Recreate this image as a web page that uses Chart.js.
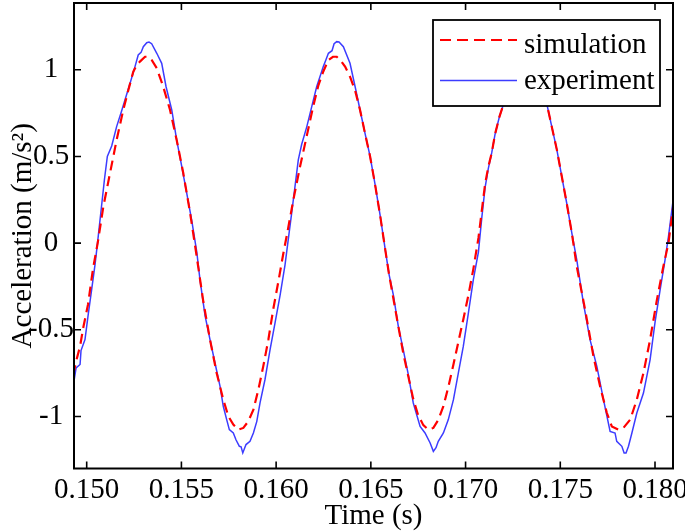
<!DOCTYPE html>
<html>
<head>
  <title>Acceleration</title>
  <script src="https://cdn.jsdelivr.net/npm/chart.js@4.4.1/dist/chart.umd.min.js"></script>
  <style>
    body { margin: 0; background: #fff; }
  </style>
</head>
<body>
<canvas id="accChart" width="685" height="531"></canvas>

<script>
// simulation curve (red dashed)
var simTime = [0.14928, 0.14947, 0.14965, 0.14982, 0.15007, 0.15033, 0.15058, 0.15088, 0.15123, 0.15158,
  0.15193, 0.15220, 0.15246, 0.15266, 0.15281, 0.15308, 0.15324, 0.15343, 0.15370, 0.15404,
  0.15440, 0.15475, 0.15510, 0.15545, 0.15577, 0.15616, 0.15651, 0.15686, 0.15721, 0.15748,
  0.15774, 0.15800, 0.15827, 0.15853, 0.15880, 0.15906, 0.15932, 0.15959, 0.15985, 0.16012,
  0.16038, 0.16059, 0.16091, 0.16126, 0.16162, 0.16196, 0.16223, 0.16249, 0.16276, 0.16300,
  0.16320, 0.16343, 0.16364, 0.16390, 0.16417, 0.16443, 0.16469, 0.16496, 0.16522, 0.16549,
  0.16575, 0.16596, 0.16619, 0.16645, 0.16672, 0.16698, 0.16724, 0.16749, 0.16777, 0.16804,
  0.16830, 0.16856, 0.16883, 0.16909, 0.16936, 0.16962, 0.16988, 0.17015, 0.17041, 0.17068,
  0.17086, 0.17103, 0.17120, 0.17138, 0.17156, 0.17179, 0.17197, 0.17219, 0.17246, 0.17272,
  0.17298, 0.17325, 0.17351, 0.17378, 0.17404, 0.17432, 0.17455, 0.17482, 0.17508, 0.17534,
  0.17561, 0.17587, 0.17631, 0.17675, 0.17710, 0.17746, 0.17772, 0.17807, 0.17833, 0.17869,
  0.17904, 0.17939, 0.17974, 0.18010, 0.18044, 0.18071, 0.18097]
var simAccel = [-0.76, -0.67, -0.595, -0.487, -0.354, -0.15, 0.0, 0.211, 0.403, 0.595,
  0.768, 0.883, 0.989, 1.03, 1.047, 1.075, 1.075, 1.056, 1.009, 0.902,
  0.768, 0.595, 0.403, 0.18, -0.05, -0.34, -0.557, -0.749, -0.903, -0.999,
  -1.047, -1.076, -1.066, -1.028, -0.961, -0.846, -0.711, -0.557, -0.38, -0.22,
  -0.06, 0.06, 0.25, 0.44, 0.62, 0.79, 0.91, 0.99, 1.056, 1.075,
  1.075, 1.05, 1.018, 0.96, 0.88, 0.768, 0.634, 0.5, 0.34, 0.16,
  -0.03, -0.18, -0.32, -0.48, -0.64, -0.77, -0.9, -0.99, -1.05, -1.076,
  -1.066, -1.02, -0.94, -0.83, -0.70, -0.57, -0.44, -0.30, -0.15, 0.03,
  0.19, 0.34, 0.44, 0.52, 0.63, 0.73, 0.79, 0.87, 0.96, 1.03,
  1.07, 1.075, 1.05, 0.99, 0.9, 0.787, 0.672, 0.538, 0.384, 0.23,
  0.058, -0.135, -0.384, -0.653, -0.826, -0.98, -1.057, -1.076, -1.066, -1.018,
  -0.903, -0.749, -0.557, -0.327, -0.135, 0.0, 0.22]

// experiment curve (blue solid)
var expTime = [0.14928, 0.14944, 0.14965, 0.14970, 0.14991, 0.15008, 0.15026, 0.15044, 0.15056, 0.15079,
  0.15094, 0.15109, 0.15132, 0.15158, 0.15181, 0.15202, 0.15229, 0.15255, 0.15272, 0.15287,
  0.15299, 0.15317, 0.15329, 0.15343, 0.15370, 0.15396, 0.15419, 0.15449, 0.15475, 0.15502,
  0.15528, 0.15554, 0.15581, 0.15598, 0.15625, 0.15651, 0.15677, 0.15704, 0.15721, 0.15739,
  0.15753, 0.15774, 0.15788, 0.15806, 0.15815, 0.15824, 0.15841, 0.15862, 0.15880, 0.15898,
  0.15915, 0.15941, 0.15968, 0.15994, 0.16021, 0.16047, 0.16064, 0.16082, 0.16100, 0.16117,
  0.16135, 0.16162, 0.16188, 0.16214, 0.16249, 0.16264, 0.16276, 0.16295, 0.16306, 0.16320,
  0.16332, 0.16355, 0.16390, 0.16417, 0.16443, 0.16469, 0.16496, 0.16522, 0.16549, 0.16575,
  0.16596, 0.16619, 0.16645, 0.16672, 0.16698, 0.16724, 0.16760, 0.16786, 0.16813, 0.16830,
  0.16844, 0.16856, 0.16883, 0.16909, 0.16936, 0.16962, 0.16988, 0.17015, 0.17041, 0.17068,
  0.17086, 0.17103, 0.17120, 0.17138, 0.17156, 0.17179, 0.17197, 0.17219, 0.17246, 0.17272,
  0.17298, 0.17325, 0.17351, 0.17378, 0.17404, 0.17432, 0.17455, 0.17482, 0.17508, 0.17534,
  0.17561, 0.17587, 0.17622, 0.17657, 0.17693, 0.17728, 0.17763, 0.17789, 0.17798, 0.17825,
  0.17837, 0.17847, 0.17860, 0.17878, 0.17904, 0.17939, 0.17974, 0.18001, 0.18027, 0.18053,
  0.18071, 0.18097]
var expAccel = [-0.83, -0.72, -0.70, -0.62, -0.556, -0.413, -0.27, -0.124, -0.01, 0.22,
  0.37, 0.50, 0.56, 0.672, 0.75, 0.826, 0.922, 1.018, 1.085, 1.10,
  1.133, 1.156, 1.16, 1.150, 1.095, 1.037, 0.902, 0.768, 0.595, 0.441,
  0.288, 0.134, -0.05, -0.211, -0.42, -0.557, -0.69, -0.826, -0.941, -1.018,
  -1.076, -1.095, -1.134, -1.172, -1.175, -1.21, -1.162, -1.143, -1.095, -1.028,
  -0.922, -0.788, -0.615, -0.461, -0.30, -0.125, 0.02, 0.173, 0.33, 0.48,
  0.57, 0.672, 0.787, 0.902, 1.018, 1.06, 1.095, 1.11, 1.15, 1.162,
  1.16, 1.133, 1.037, 0.902, 0.768, 0.634, 0.5, 0.34, 0.16, -0.03,
  -0.18, -0.30, -0.48, -0.62, -0.76, -0.922, -1.057, -1.095, -1.153, -1.201,
  -1.18, -1.143, -1.095, -1.018, -0.903, -0.749, -0.596, -0.403, -0.211, -0.05,
  0.15, 0.32, 0.43, 0.52, 0.63, 0.73, 0.79, 0.88, 0.98, 1.06,
  1.12, 1.16, 1.13, 1.05, 0.92, 0.787, 0.672, 0.538, 0.384, 0.23,
  0.058, -0.096, -0.346, -0.557, -0.711, -0.903, -1.086, -1.095, -1.143, -1.172,
  -1.21, -1.21, -1.172, -1.095, -0.98, -0.865, -0.673, -0.45, -0.27, -0.096,
  0.038, 0.26]

var xTicks = [0.150, 0.155, 0.160, 0.165, 0.170, 0.175, 0.180]
var yTicks = [-1, -0.5, 0, 0.5, 1]
var seriesNames = ["simulation", "experiment"]

var RED = "#ff0000", BLUE = "#3c3cff"
var SERIF = "'Liberation Serif', 'Times New Roman', serif"

function pairs(xs, ys){
  var out = []
  for(i=0;i<xs.length;i++){ out.push({x: xs[i], y: ys[i]}) }
  return out
}

// matlab style box, inward ticks and the boxed legend
var matlabBox = {
  id: "matlabBox",
  afterDraw: function(chart){
    var ctx = chart.ctx, a = chart.chartArea
    var xs = chart.scales.x, ys = chart.scales.y
    ctx.save()
    ctx.strokeStyle = "#000"
    ctx.lineWidth = 1.6
    ctx.beginPath()
    xTicks.forEach(function(v){
      var px = xs.getPixelForValue(v)
      ctx.moveTo(px, a.bottom); ctx.lineTo(px, a.bottom - 7)
      ctx.moveTo(px, a.top); ctx.lineTo(px, a.top + 7)
    })
    yTicks.forEach(function(v){
      var py = ys.getPixelForValue(v)
      ctx.moveTo(a.left, py); ctx.lineTo(a.left + 7, py)
      ctx.moveTo(a.right, py); ctx.lineTo(a.right - 7, py)
    })
    ctx.stroke()
    ctx.lineWidth = 2
    ctx.strokeRect(a.left, a.top, a.right - a.left, a.bottom - a.top)

    // legend
    ctx.fillStyle = "#fff"
    ctx.fillRect(433, 20, 227, 86)
    ctx.lineWidth = 1.8
    ctx.strokeRect(433, 20, 227, 86)

    ctx.lineWidth = 2.2
    ctx.strokeStyle = RED
    ctx.setLineDash([11, 6])
    ctx.beginPath(); ctx.moveTo(440, 40); ctx.lineTo(517, 40); ctx.stroke()
    ctx.setLineDash([])
    ctx.lineWidth = 1.6
    ctx.strokeStyle = BLUE
    ctx.beginPath(); ctx.moveTo(440, 80.5); ctx.lineTo(517, 80.5); ctx.stroke()

    ctx.fillStyle = "#000"
    ctx.font = "29px " + SERIF
    ctx.textAlign = "left"
    ctx.textBaseline = "alphabetic"
    ctx.fillText(seriesNames[0], 524, 53)
    ctx.fillText(seriesNames[1], 524, 88.5)
    ctx.restore()
  }
}

var accChart = new Chart(document.getElementById("accChart").getContext("2d"), {
  type: "line",
  data: {
    datasets: [{
      label: seriesNames[0],
      data: pairs(simTime, simAccel),
      borderColor: RED,
      borderWidth: 2.2,
      borderDash: [10, 6],
      pointRadius: 0,
      tension: 0
    }, {
      label: seriesNames[1],
      data: pairs(expTime, expAccel),
      borderColor: BLUE,
      borderWidth: 1.5,
      pointRadius: 0,
      tension: 0
    }]
  },
  options: {
    responsive: false,
    animation: false,
    layout: { padding: { left: 0, right: 12, top: 3, bottom: 0 } },
    plugins: { legend: { display: false }, tooltip: { enabled: false } },
    scales: {
      x: {
        type: "linear",
        min: 0.14933,
        max: 0.18095,
        grid: { display: false, drawTicks: false },
        border: { display: false },
        afterBuildTicks: function(s){ s.ticks = xTicks.map(function(v){ return {value: v} }) },
        afterFit: function(s){ s.height = 62.5; s.paddingLeft = 0; s.paddingRight = 0 },
        ticks: {
          autoSkip: false, maxRotation: 0, padding: 4, color: "#000",
          font: { family: SERIF, size: 29 },
          callback: function(v){ return v.toFixed(3) }
        },
        title: { display: true, text: "Time (s)", color: "#000", padding: { top: 0, bottom: -3 },
          font: { family: SERIF, size: 29 } }
      },
      y: {
        min: -1.30,
        max: 1.385,
        grid: { display: false, drawTicks: false },
        border: { display: false },
        afterBuildTicks: function(s){ s.ticks = yTicks.map(function(v){ return {value: v} }) },
        afterFit: function(s){ s.width = 74; s.paddingTop = 0; s.paddingBottom = 0 },
        ticks: {
          crossAlign: "center", padding: 0, color: "#000",
          font: { family: SERIF, size: 29 },
          callback: function(v){ return String(v) }
        },
        title: { display: true, text: "Acceleration (m/s²)", color: "#000", padding: { top: 6, bottom: 0 },
          font: { family: SERIF, size: 29 } }
      }
    }
  },
  plugins: [matlabBox]
})
</script>
</body>
</html>
